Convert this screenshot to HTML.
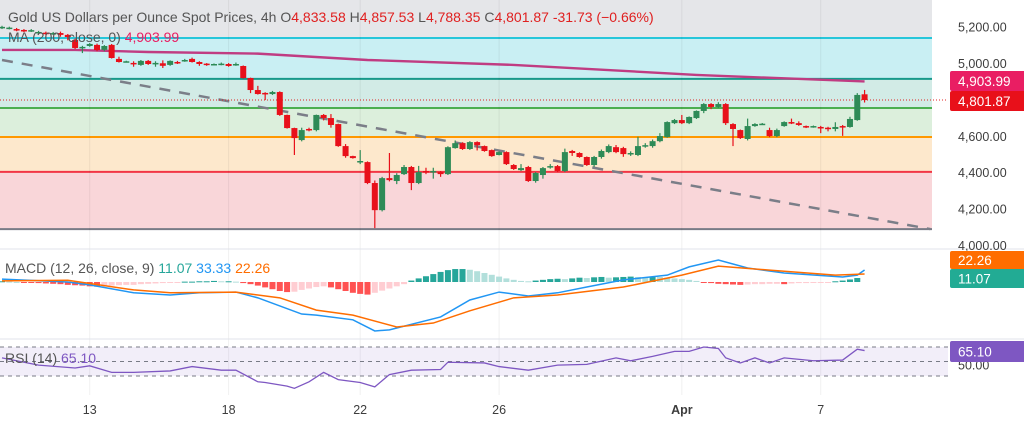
<!DOCTYPE html>
<html><head><meta charset="utf-8"><style>
html,body{margin:0;padding:0;background:#fff;}
svg{display:block;font-family:"Liberation Sans",sans-serif;}
</style></head><body>
<svg id="c" width="1024" height="426" viewBox="0 0 1024 426" xmlns="http://www.w3.org/2000/svg">
<rect x="0" y="0" width="932" height="38" fill="#e5e6e9"/>
<g id="bands"></g>
<g id="grid"></g>
<g id="main"></g>
<g id="macd"></g>
<g id="rsi"></g>
<g id="axes"></g>
<g font-size="14">
<text x="8" y="22" fill="#555">Gold US Dollars per Ounce Spot Prices, 4h <tspan fill="#555">O</tspan><tspan fill="#e02020">4,833.58</tspan> <tspan fill="#555">H</tspan><tspan fill="#e02020">4,857.53</tspan> <tspan fill="#555">L</tspan><tspan fill="#e02020">4,788.35</tspan> <tspan fill="#555">C</tspan><tspan fill="#e02020">4,801.87  -31.73 (−0.66%)</tspan></text>
<text x="8" y="42" fill="#555">MA (200, close, 0) <tspan fill="#e91e63">4,903.99</tspan></text>
<text x="5" y="273" fill="#555">MACD (12, 26, close, 9) <tspan fill="#26a69a">11.07</tspan> <tspan fill="#2196f3">33.33</tspan> <tspan fill="#ff6d00">22.26</tspan></text>
<text x="5" y="363" fill="#555">RSI (14) <tspan fill="#7e57c2">65.10</tspan></text>
</g>
</svg>
<script>
const opens=[5198,5195,5192,5187,5180,5170,5172,5164,5170,5160,5132,5088,5099,5105,5078,5105,5028,5010,5006,4995,5017,5000,5004,4995,5011,5017,5028,5011,5002,4996,4997,5000,4995,4989,4923,4857,4841,4835,4846,4720,4648,4582,4643,4637,4720,4703,4670,4549,4494,4461,4461,4346,4197,4373,4357,4395,4434,4346,4412,4406,4406,4395,4538,4565,4533,4571,4549,4527,4500,4516,4445,4417,4434,4357,4390,4434,4439,4412,4522,4511,4489,4445,4489,4516,4543,4538,4505,4500,4549,4549,4576,4598,4675,4692,4675,4703,4742,4780,4764,4780,4670,4637,4588,4659,4668,4637,4604,4659,4681,4675,4659,4654,4654,4650,4643,4659,4654,4692,4833.58];
const closes=[5204,5200,5187,5180,5186,5176,5165,5170,5160,5148,5088,5094,5110,5077,5099,5033,5011,5015,5000,5017,5000,5006,4990,5017,5006,5022,5011,5000,4996,5000,5002,4989,5000,4923,4857,4835,4835,4846,4720,4648,4593,4637,4637,4720,4703,4665,4549,4494,4483,4467,4346,4197,4373,4362,4390,4434,4346,4406,4406,4412,4395,4543,4565,4533,4571,4554,4522,4494,4516,4450,4423,4428,4357,4401,4428,4439,4412,4516,4511,4489,4445,4489,4522,4549,4516,4505,4511,4549,4554,4576,4604,4681,4692,4675,4709,4742,4780,4764,4780,4675,4643,4593,4659,4670,4672,4604,4637,4681,4675,4665,4654,4659,4648,4646,4654,4654,4698,4830,4801.87];
const highs=[5210,5205,5198,5192,5192,5182,5178,5176,5178,5165,5140,5100,5115,5112,5104,5110,5040,5018,5015,5022,5022,5015,5020,5020,5017,5028,5035,5015,5005,5003,5008,5005,5008,4992,4925,4880,4845,4852,4850,4722,4650,4650,4650,4722,4725,4725,4672,4560,4496,4527,4465,4360,4380,4511,4400,4445,4440,4440,4430,4430,4412,4548,4580,4570,4576,4575,4552,4530,4520,4520,4450,4450,4440,4406,4434,4450,4445,4535,4528,4515,4492,4495,4530,4558,4555,4545,4520,4600,4565,4585,4620,4685,4698,4720,4712,4745,4785,4785,4790,4785,4675,4640,4700,4675,4676,4650,4645,4685,4700,4685,4662,4662,4660,4655,4680,4665,4710,4840,4857.53];
const lows=[5192,5190,5180,5175,5176,5165,5160,5160,5150,5130,5082,5060,5095,5070,5070,5030,5008,5008,4985,4990,4995,4985,4978,4990,5000,5012,5008,4990,4990,4993,4993,4985,4990,4920,4840,4832,4802,4830,4715,4645,4500,4575,4630,4630,4690,4650,4545,4485,4480,4450,4340,4098,4190,4355,4340,4390,4307,4340,4395,4370,4380,4390,4535,4528,4528,4525,4518,4490,4498,4445,4418,4412,4352,4348,4370,4425,4406,4406,4495,4485,4440,4435,4480,4510,4510,4490,4495,4494,4540,4540,4570,4595,4670,4670,4670,4698,4730,4752,4758,4665,4549,4588,4580,4655,4665,4598,4598,4655,4670,4660,4648,4650,4620,4630,4630,4605,4650,4688,4788.35];
const maBars=[0,10,20,35,50,70,95,118];
const maVals=[5077,5077,5066,5057,5022,4995,4940,4903.99];
const trendBars=[0,127];
const trendVals=[5022,4093];
const levels=[5143,4918,4758,4599,4407,4093];
const priceTicks=[5200,5000,4600,4400,4200,4000];
const dateBars=[12,31,49,68,93,112];
const dateLabels=["13","18","22","26","Apr","7"];
const macdBars=[0,9,12,18,23,27,32,35,41,43,48,51,53,60,64,68,72,76,80,85,91,94,98,102,107,115,117,118];
const macdVals=[8,0,-8,-30,-36,-30,-28,-44,-89,-92,-105,-136,-133,-97,-50,-28,-39,-30,-14,6,19,42,61,39,25,14,19,33.33];
const sigBars=[0,9,18,23,32,38,43,48,54,59,64,70,76,85,93,98,105,114,118];
const sigVals=[3,5,-22,-30,-28,-44,-78,-92,-125,-114,-80,-44,-36,-14,19,44,33,19,22.26];
const hist=[2,1,0,-1,-2,-3,-4,-5,-6,-8,-9,-10,-12,-13,-12,-10,-9,-8,-8,-6,-5,-4,-3,-2,-1,1,1,2,2,3,2,2,1,-3,-6,-10,-15,-20,-25,-28,-27,-22,-18,-14,-12,-15,-20,-25,-30,-33,-35,-30,-24,-18,-12,-6,4,10,16,22,28,33,36,36,34,30,25,20,15,10,6,3,2,4,6,8,9,8,10,12,11,13,14,12,13,14,15,14,13,15,14,12,10,8,6,3,-2,-3,-5,-6,-7,-8,-7,-6,-6,-5,-5,-6,-4,-3,-3,-2,-2,-1,2,4,7,11.07];
const rsiBars=[0,5,10,12,15,18,23,26,30,32,35,36,39,40,42,44,46,49,51,53,56,60,61,66,68,72,76,80,84,86,89,92,94,96,98,99,101,103,105,107,111,115,117,118];
const rsiVals=[55,45,41,44,35,35,37,43,38,38,22,21,16,13,22,35,25,21,15,32,38,39,49,48,43,38,45,46,55,51,57,64,64,70,68,55,48,55,48,55,51,52,67,65.1];

const NS="http://www.w3.org/2000/svg";
const PLOT_R=932, X0=2, STEP=7.31;
const xb=i=>X0+i*STEP;
const yp=p=>64+(5000-p)*0.182;
const ym=v=>282-v*0.36;
const yr=v=>361.5-(v-50)*0.725;
function mk(par,tag,at){const e=document.createElementNS(NS,tag);for(const k in at)e.setAttribute(k,at[k]);document.getElementById(par).appendChild(e);return e;}

const bandCols=["#c9eff3","#d2ebe6","#dcefdc","#fde8cc","#f9d6d9"];
const lineCols=["#26c6da","#17998a","#4caf50","#ff9800","#f23645","#787b86"];
for(let i=0;i<5;i++){
  const r=mk("bands","rect",{x:0,y:yp(levels[i]),width:PLOT_R,height:yp(levels[i+1])-yp(levels[i]),fill:bandCols[i]});
  
  
}
levels.forEach((v,i)=>{
  const l=mk("bands","line",{x1:0,x2:PLOT_R,y1:yp(v),y2:yp(v),stroke:lineCols[i],"stroke-width":2});
  
  
});
dateBars.forEach(b=>{
  const g=mk("grid","line",{x1:xb(b),x2:xb(b),y1:0,y2:395,stroke:"#000","stroke-opacity":0.06});
  
  
});
[249,339].forEach(y=>{
  const s=mk("grid","line",{x1:0,x2:1024,y1:y,y2:y,stroke:"#e0e3eb"});
  
  
});
const tl=mk("main","line",{x1:xb(trendBars[0]),y1:yp(trendVals[0]),x2:xb(trendBars[1]),y2:yp(trendVals[1]),stroke:"#7b7e88","stroke-width":2.5,"stroke-dasharray":"11 9"});


const ma=mk("main","polyline",{points:maBars.map((b,i)=>xb(b)+","+yp(maVals[i])).join(" "),fill:"none",stroke:"#c03c82","stroke-width":2.4});


const cp=mk("main","line",{x1:0,x2:948,y1:yp(closes[closes.length-1]),y2:yp(closes[closes.length-1]),stroke:"#e02020","stroke-width":1,"stroke-dasharray":"1 2"});


for(let i=0;i<opens.length;i++){
  const up=closes[i]>=opens[i], col=up?"#2e8b57":"#e8101a", x=xb(i);
  const w=mk("main","line",{x1:x,x2:x,y1:yp(highs[i]),y2:yp(lows[i]),stroke:col,"stroke-width":1.2});
  
  
  const t=yp(Math.max(opens[i],closes[i])), bt=yp(Math.min(opens[i],closes[i]));
  const r=mk("main","rect",{x:x-3,y:t,width:6,height:Math.max(1.5,bt-t),fill:col});
  
  
}
for(let i=0;i<hist.length;i++){
  const v=hist[i], prev=i?hist[i-1]:v;
  const col=v>=0?(v>=prev?"#26a69a":"#b2dfdb"):(v<prev?"#ff5252":"#ffcdd2");
  const y0=ym(0), y1=ym(v);
  const r=mk("macd","rect",{x:xb(i)-3,y:Math.min(y0,y1),width:6,height:Math.max(1,Math.abs(y1-y0)),fill:col});
  
  
}
const ml=mk("macd","polyline",{points:macdBars.map((b,i)=>xb(b)+","+ym(macdVals[i])).join(" "),fill:"none",stroke:"#2196f3","stroke-width":1.5});


const sl=mk("macd","polyline",{points:sigBars.map((b,i)=>xb(b)+","+ym(sigVals[i])).join(" "),fill:"none",stroke:"#ff6d00","stroke-width":1.5});


const rb=mk("rsi","rect",{x:0,y:yr(70),width:948,height:yr(30)-yr(70),fill:"#7e57c2","fill-opacity":0.1});


[70,50,30].forEach(v=>{
  const l=mk("rsi","line",{x1:0,x2:948,y1:yr(v),y2:yr(v),stroke:"#787b86","stroke-dasharray":"4 4"});
  
  
});
const rl=mk("rsi","polyline",{points:rsiBars.map((b,i)=>xb(b)+","+yr(rsiVals[i])).join(" "),fill:"none",stroke:"#7e57c2","stroke-width":1.3});


priceTicks.forEach(v=>{
  const t=mk("axes","text",{x:958,y:yp(v)+4,"font-size":12.5,fill:"#3d3d3d"});
  t.textContent=v.toLocaleString('en-US',{minimumFractionDigits:2});
  
  
});
dateBars.forEach((b,i)=>{
  const t=mk("axes","text",{x:xb(b),y:414,"font-size":12.5,fill:"#3d3d3d","text-anchor":"middle","font-weight":dateLabels[i]==="Apr"?"bold":"normal"});
  t.textContent=dateLabels[i];
  
  
});
const r50=mk("axes","text",{x:958,y:yr(50)+8,"font-size":12.5,fill:"#3d3d3d"});
r50.textContent="50.00";


function badge(y,h,bg,txt,name){
  const r=mk("axes","rect",{x:950,y:y,width:76,height:h,fill:bg,rx:2});
  
  
  const t=mk("axes","text",{x:958,y:y+h/2+5,"font-size":13.5,fill:"#fff"});
  t.textContent=txt;
  
  
}
badge(71,20,"#e91e63","4,903.99","ma-price-label");
badge(91,20,"#e8101a","4,801.87","last-price-label");
badge(251,18,"#ff6d00","22.26","signal-value-label");
badge(269,19,"#22ab94","11.07","histogram-value-label");
badge(341,21,"#7e57c2","65.10","rsi-value-label");
</script>
</body></html>
